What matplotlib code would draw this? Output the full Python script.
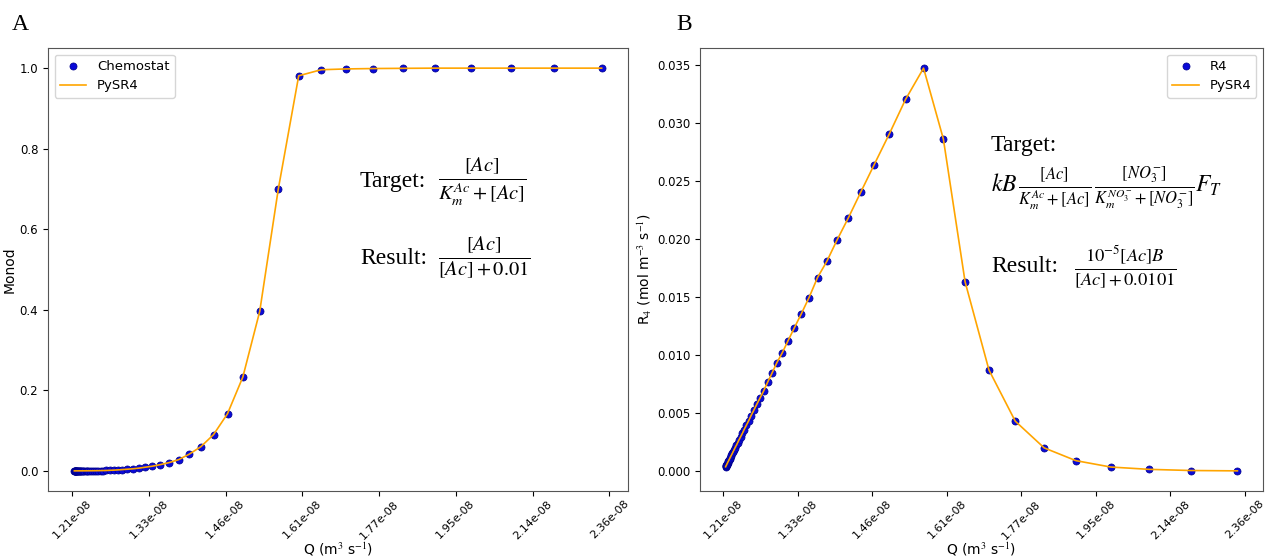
import matplotlib
matplotlib.use("Agg")
import matplotlib.pyplot as plt
from matplotlib.ticker import NullLocator

plt.rcParams["mathtext.fontset"] = "stix"

# Flow rate Q (units of 1e-8 m3/s), shared by both panels
q_flow = [
    1.2134, 1.2137, 1.2141, 1.2145, 1.2149, 1.2154, 1.2159, 1.2165, 1.2171, 1.2179,
    1.2186, 1.2195, 1.2204, 1.2215, 1.2226, 1.2239, 1.2252, 1.2268, 1.2284, 1.2303,
    1.2323, 1.2345, 1.2370, 1.2397, 1.2426, 1.2459, 1.2496, 1.2535, 1.2579, 1.2628,
    1.2681, 1.2740, 1.2805, 1.2877, 1.2957, 1.3045, 1.3142, 1.3250, 1.3369, 1.3501,
    1.3649, 1.3812, 1.3994, 1.4197, 1.4423, 1.4676, 1.4958, 1.5275, 1.5632, 1.6033,
    1.6485, 1.6997, 1.7578, 1.8240, 1.8996, 1.9862, 2.0860, 2.2013, 2.3357,
]
q_flow = [v * 1e-8 for v in q_flow]

# Monod term from the chemostat model
monod = [
    0.00013, 0.00013, 0.00013, 0.00013, 0.00014, 0.00014, 0.00014, 0.00015, 0.00015, 0.00016,
    0.00016, 0.00017, 0.00018, 0.00019, 0.00020, 0.00021, 0.00022, 0.00024, 0.00026, 0.00028,
    0.00031, 0.00034, 0.00037, 0.00042, 0.00047, 0.00054, 0.00063, 0.00075, 0.00090, 0.0011,
    0.0015, 0.0019, 0.0025, 0.0033, 0.0042, 0.0052, 0.0068, 0.0092, 0.0117, 0.0156,
    0.0206, 0.028, 0.0415, 0.060, 0.090, 0.142, 0.233, 0.396, 0.700, 0.981,
    0.996, 0.998, 0.999, 0.9995, 1.0, 1.0, 1.0, 1.0, 1.0,
]

# Reaction rate R4 (mol m-3 s-1)
r4 = [
    0.00037, 0.00041, 0.00045, 0.00049, 0.00054, 0.00060, 0.00065, 0.00072, 0.00079, 0.00087,
    0.00095, 0.00105, 0.00115, 0.00127, 0.00139, 0.00153, 0.00168, 0.00185, 0.00203, 0.00223,
    0.00245, 0.00270, 0.00296, 0.00325, 0.00358, 0.00393, 0.00432, 0.00477, 0.00523, 0.00575,
    0.00630, 0.00691, 0.00766, 0.00844, 0.00934, 0.01017, 0.01121, 0.01234, 0.01355, 0.01494,
    0.01667, 0.01806, 0.0199, 0.0218, 0.0240, 0.0264, 0.0290, 0.0320, 0.0347, 0.0286,
    0.0163, 0.0087, 0.0043, 0.0020, 0.0009, 0.00035, 0.00015, 0.00005, 0.00002,
]

# PySR fits evaluated at the same flow rates
pysr_monod = monod
pysr_r4 = r4

q_ticks = [1.21e-8, 1.331e-8, 1.4641e-8, 1.6105e-8, 1.7716e-8, 1.9487e-8, 2.1436e-8, 2.3579e-8]
q_ticklabels = [f"{t:.2e}" for t in q_ticks]

W, H = 1269, 559
fig = plt.figure(figsize=(W / 100, H / 100), dpi=100)
ax_a = fig.add_axes([48 / W, 1 - 491 / H, 580 / W, 443 / H])
ax_b = fig.add_axes([700 / W, 1 - 491 / H, 563 / W, 443 / H])


def draw_panel(ax, y_data, y_fit, data_label, ylabel, legend_loc):
    ax.scatter(q_flow, y_data, s=26, color="#0a0ad8", edgecolors="#00008b",
               linewidths=0.5, label=data_label, zorder=2)
    ax.plot(q_flow, y_fit, color="orange", lw=1.2, label="PySR4", zorder=3)
    ax.set_xscale("log")
    ax.set_xticks(q_ticks)
    ax.set_xticklabels(q_ticklabels, rotation=45, fontsize=8)
    ax.xaxis.set_minor_locator(NullLocator())
    ax.tick_params(axis="x", pad=2)
    ax.tick_params(axis="y", labelsize=8.5)
    ax.set_xlabel(r"Q (m$^3$ s$^{-1}$)", fontsize=10, labelpad=0)
    ax.set_ylabel(ylabel, fontsize=10, labelpad=2)
    for sp in ax.spines.values():
        sp.set_color("#555555")
    ax.legend(loc=legend_loc, fontsize=9.5, scatterpoints=1)


draw_panel(ax_a, monod, pysr_monod, "Chemostat", "Monod", "upper left")
draw_panel(ax_b, r4, pysr_r4, "R4", r"R$_4$ (mol m$^{-3}$ s$^{-1}$)", "upper right")


def ftext(x, y, s, **kw):
    fig.text(x / W, 1 - y / H, s, va="center", ha="left", **kw)


serif = ["Liberation Serif", "DejaVu Serif"]

# panel letters
ftext(12, 24, "A", fontsize=17, family=serif)
ftext(676, 24, "B", fontsize=17, family=serif)

# panel A equations
ftext(360, 182, "Target:", fontsize=17, family=serif)
ftext(438, 182, r"$\frac{[Ac]}{K_m^{Ac}+[Ac]}$", fontsize=21)
ftext(360, 258, "Result:", fontsize=17, family=serif)
ftext(438, 258, r"$\frac{[Ac]}{[Ac]+0.01}$", fontsize=21)

# panel B equations
ftext(991, 145, "Target:", fontsize=17, family=serif)
ftext(991, 188, r"$kB\,\frac{[Ac]}{K_m^{Ac}+[Ac]}\,\frac{[NO_3^{-}]}{K_m^{NO_3^{-}}+[NO_3^{-}]}F_T$",
      fontsize=17)
ftext(991, 267, "Result:", fontsize=17, family=serif)
ftext(1074, 267, r"$\frac{10^{-5}[Ac]B}{[Ac]+0.0101}$", fontsize=19)

fig.savefig("out.png", dpi=100)
